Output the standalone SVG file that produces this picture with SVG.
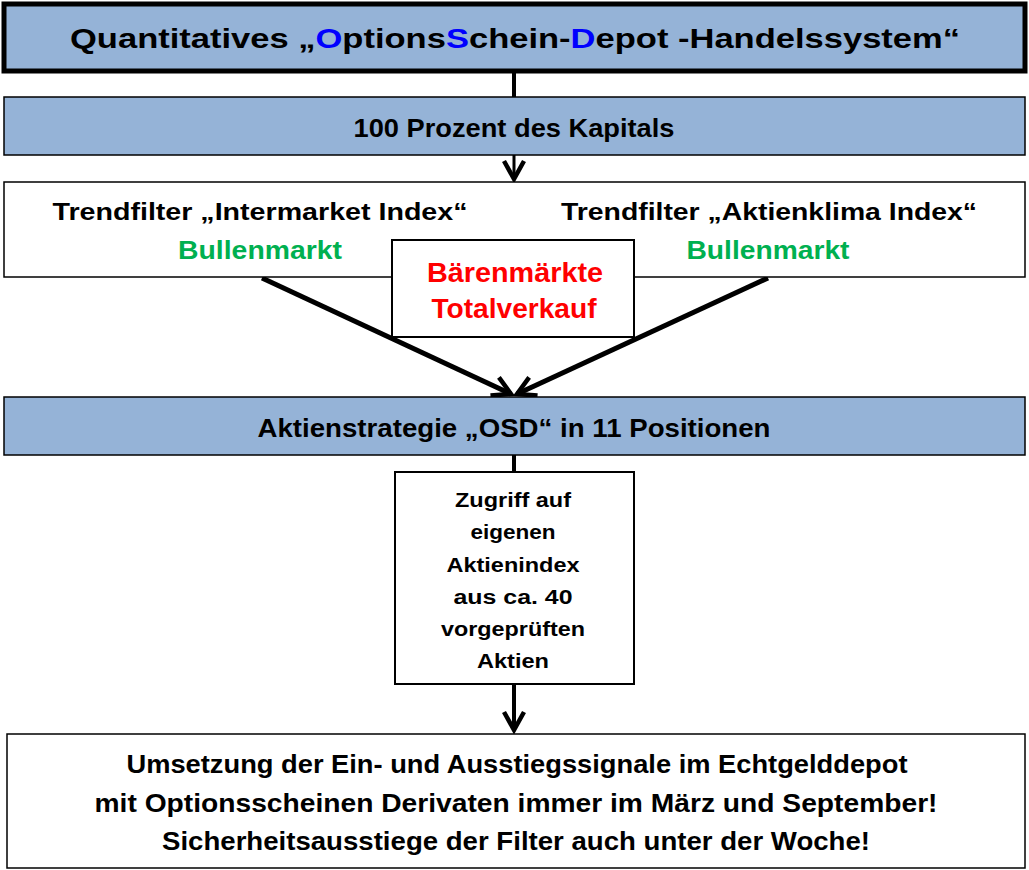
<svg xmlns="http://www.w3.org/2000/svg" width="1029" height="870" viewBox="0 0 1029 870">
<style>
text{font-family:"Liberation Sans",Arial,sans-serif;font-weight:bold;fill:#000;text-anchor:middle}
.blue{fill:#95B3D7;stroke:#000;stroke-width:1.5}
.white{fill:#fff;stroke:#000;stroke-width:1.5}
.g{fill:#00B050}
.r{fill:#FF0000}
.b{fill:#0000FF}
.ln{stroke:#000;fill:none}
</style>
<defs>
<marker id="v" markerUnits="userSpaceOnUse" viewBox="0 0 24 24" refX="20" refY="12" markerWidth="24" markerHeight="24" orient="auto">
<path d="M2,2 L20,12 L2,22" fill="none" stroke="#000" stroke-width="4.5"/>
</marker>
</defs>
<g id="connectors">
<line class="ln" x1="514" y1="72" x2="514" y2="97" stroke-width="4"/>
<line class="ln" x1="514" y1="155" x2="514" y2="179" stroke-width="3" marker-end="url(#v)"/>
<line class="ln" x1="514" y1="182" x2="514" y2="240" stroke-width="1.5"/>
<line class="ln" x1="262" y1="278" x2="511" y2="394" stroke-width="5" marker-end="url(#v)"/>
<line class="ln" x1="768" y1="278" x2="517" y2="394" stroke-width="5" marker-end="url(#v)"/>
<line class="ln" x1="514" y1="455" x2="514" y2="472" stroke-width="4"/>
<line class="ln" x1="514" y1="684" x2="514" y2="730" stroke-width="4" marker-end="url(#v)"/>
</g>
<g id="title">
<rect x="4" y="4" width="1021" height="67" fill="#95B3D7" stroke="#000" stroke-width="5"/>
<text x="515" y="48" font-size="28" textLength="890" lengthAdjust="spacingAndGlyphs">Quantitatives „<tspan class="b">O</tspan>ptions<tspan class="b">S</tspan>chein-<tspan class="b">D</tspan>epot -Handelssystem“</text>
</g>
<g id="kapital">
<rect class="blue" x="4" y="97" width="1021" height="58"/>
<text x="514" y="137" font-size="25" textLength="321" lengthAdjust="spacingAndGlyphs">100 Prozent des Kapitals</text>
</g>
<g id="trendfilter">
<rect class="white" x="4" y="182" width="1021" height="95"/>
<text x="260" y="220" font-size="24" textLength="415" lengthAdjust="spacingAndGlyphs">Trendfilter „Intermarket Index“</text>
<text class="g" x="260" y="259" font-size="25" textLength="164" lengthAdjust="spacingAndGlyphs">Bullenmarkt</text>
<text x="769" y="220" font-size="24" textLength="416" lengthAdjust="spacingAndGlyphs">Trendfilter „Aktienklima Index“</text>
<text class="g" x="768" y="259" font-size="25" textLength="163" lengthAdjust="spacingAndGlyphs">Bullenmarkt</text>
</g>
<g id="baerenmarkt">
<rect x="392" y="240" width="242" height="97" fill="#fff" stroke="#000" stroke-width="2"/>
<text class="r" x="515" y="282" font-size="27" textLength="176" lengthAdjust="spacingAndGlyphs">Bärenmärkte</text>
<text class="r" x="514" y="318" font-size="27" textLength="165" lengthAdjust="spacingAndGlyphs">Totalverkauf</text>
</g>
<g id="strategie">
<rect class="blue" x="4" y="397" width="1021" height="58"/>
<text x="514" y="437" font-size="25" textLength="513" lengthAdjust="spacingAndGlyphs">Aktienstrategie „OSD“ in 11 Positionen</text>
</g>
<g id="aktienindex">
<rect x="395" y="472" width="239" height="212" fill="#fff" stroke="#000" stroke-width="2"/>
<text x="513" y="507" font-size="20" textLength="116" lengthAdjust="spacingAndGlyphs">Zugriff auf</text>
<text x="513" y="539" font-size="20" textLength="85" lengthAdjust="spacingAndGlyphs">eigenen</text>
<text x="513" y="572" font-size="20" textLength="133" lengthAdjust="spacingAndGlyphs">Aktienindex</text>
<text x="513" y="604" font-size="20" textLength="119" lengthAdjust="spacingAndGlyphs">aus ca. 40</text>
<text x="513" y="636" font-size="20" textLength="144" lengthAdjust="spacingAndGlyphs">vorgeprüften</text>
<text x="513" y="668" font-size="20" textLength="72" lengthAdjust="spacingAndGlyphs">Aktien</text>
</g>
<g id="umsetzung">
<rect class="white" x="7" y="734" width="1018" height="134"/>
<text x="517" y="773" font-size="25" textLength="781" lengthAdjust="spacingAndGlyphs">Umsetzung der Ein- und Ausstiegssignale im Echtgelddepot</text>
<text x="516" y="812" font-size="25" textLength="843" lengthAdjust="spacingAndGlyphs">mit Optionsscheinen Derivaten immer im März und September!</text>
<text x="516" y="850" font-size="25" textLength="708" lengthAdjust="spacingAndGlyphs">Sicherheitsausstiege der Filter auch unter der Woche!</text>
</g>
</svg>
